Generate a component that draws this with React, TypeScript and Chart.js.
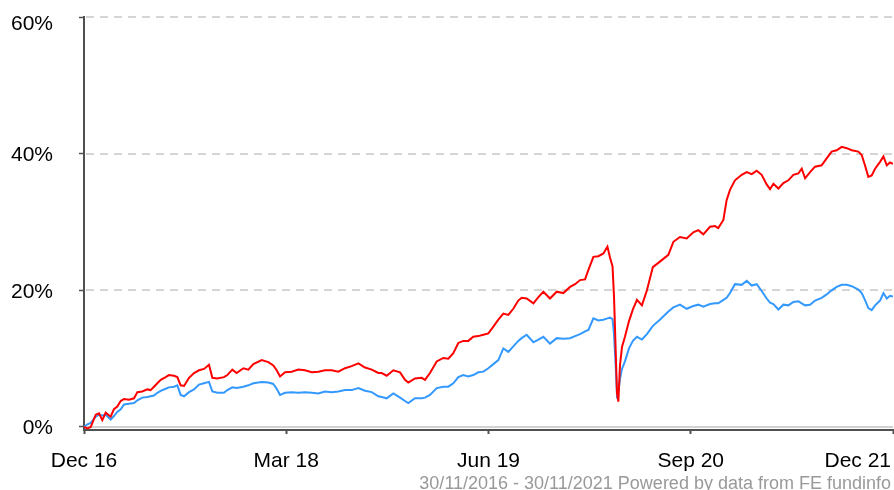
import { useEffect, useRef } from 'react';
import { Chart, registerables } from 'chart.js';

Chart.register(...registerables);

// months since 30/11/2016
const MONTHS = [
  0.0, 0.25, 0.5, 0.87, 1.11, 1.36, 1.61, 1.98, 2.22, 2.47, 2.72, 2.97, 3.34, 3.71, 3.96, 4.32, 4.7, 4.94,
  5.19, 5.44, 5.69, 6.06, 6.3, 6.68, 6.92, 7.17, 7.42, 7.79, 8.16, 8.53, 8.9, 9.27, 9.52, 9.89, 10.38, 10.63,
  11.0, 11.32, 11.82, 12.19, 12.56, 13.18, 13.67, 14.04, 14.29, 14.54, 14.91, 15.4, 15.9, 16.39, 16.89, 17.38,
  17.87, 18.37, 18.86, 19.36, 19.85, 20.35, 20.84, 21.34, 21.83, 22.08, 22.45, 22.94, 23.44, 23.81, 24.05,
  24.55, 25.05, 25.29, 25.66, 26.16, 26.65, 27.02, 27.39, 27.76, 28.13, 28.5, 28.87, 29.24, 29.62, 29.99,
  30.36, 30.73, 31.1, 31.47, 31.84, 32.21, 32.46, 32.83, 33.33, 33.7, 34.07, 34.56, 35.06, 35.55, 36.05,
  36.42, 36.79, 37.16, 37.41, 37.78, 38.15, 38.52, 38.82, 39.01, 39.2, 39.31, 39.42, 39.53, 39.63, 39.75,
  39.9, 40.12, 40.42, 40.71, 41.01, 41.38, 41.75, 42.19, 42.71, 43.34, 43.71, 44.2, 44.7, 45.19, 45.56,
  45.93, 46.43, 46.8, 47.04, 47.42, 47.66, 47.91, 48.28, 48.78, 49.15, 49.52, 49.89, 50.26, 50.63, 50.88,
  51.13, 51.5, 51.87, 52.24, 52.61, 52.98, 53.23, 53.48, 53.85, 54.22, 54.71, 55.08, 55.45, 55.82, 56.2,
  56.57, 56.94, 57.43, 57.68, 57.92, 58.17, 58.42, 58.67, 59.04, 59.29, 59.54, 59.78, 60.0,
];

const RED_SERIES = [
  0.0, -0.2, 0.0, 1.8, 2.0, 1.0, 2.1, 1.5, 2.6, 3.0, 3.8, 4.1, 4.0, 4.2, 5.1, 5.2, 5.5, 5.4,
  5.9, 6.4, 6.9, 7.3, 7.6, 7.5, 7.3, 6.1, 6.0, 7.2, 7.9, 8.3, 8.5, 9.1, 7.2, 7.1, 7.3, 7.6,
  8.4, 7.9, 8.6, 8.4, 9.2, 9.8, 9.5, 9.0, 8.3, 7.4, 8.0, 8.1, 8.4, 8.3, 8.0, 8.1,
  8.3, 8.3, 8.1, 8.6, 8.9, 9.3, 8.7, 8.4, 7.9, 7.9, 7.5, 8.3, 8.0, 6.9, 6.5,
  7.1, 7.2, 6.9, 7.9, 9.6, 10.1, 10.0, 10.8, 12.3, 12.6, 12.6, 13.2, 13.3, 13.5, 13.7,
  14.7, 15.7, 16.6, 16.4, 17.3, 18.5, 18.9, 18.8, 18.1, 19.0, 19.8, 18.8, 19.8, 19.6, 20.5,
  20.9, 21.5, 21.6, 23.0, 24.9, 25.0, 25.4, 26.4, 24.8, 23.5, 19.0, 12.0, 5.0, 3.7, 9.0,
  11.7, 13.2, 15.5, 17.2, 18.6, 17.8, 20.0, 23.4, 24.2, 25.2, 27.1, 27.8, 27.6, 28.5, 28.8,
  28.2, 29.3, 29.4, 29.1, 30.3, 33.2, 34.7, 36.1, 36.9, 37.3, 37.0, 37.5, 36.9, 35.5, 34.8,
  35.6, 34.9, 35.7, 36.1, 36.9, 37.1, 37.8, 36.4, 37.3, 38.1, 38.3, 39.3, 40.3, 40.5, 41.0,
  40.8, 40.5, 40.3, 39.8, 38.3, 36.6, 36.8, 37.8, 38.8, 39.6, 38.3, 38.7, 38.5,
];

const BLUE_SERIES = [
  0.0, 0.4, 0.6, 1.5, 1.8, 1.7, 1.8, 1.1, 1.6, 2.2, 2.6, 3.3, 3.4, 3.5, 3.9, 4.3, 4.4, 4.5,
  4.6, 5.0, 5.3, 5.6, 5.8, 5.9, 6.1, 4.7, 4.5, 5.1, 5.5, 6.2, 6.4, 6.6, 5.2, 5.0, 5.0, 5.4,
  5.8, 5.7, 5.9, 6.1, 6.4, 6.6, 6.5, 6.3, 5.6, 4.7, 5.0, 5.1, 5.0, 5.1, 5.0, 4.9,
  5.2, 5.1, 5.2, 5.4, 5.4, 5.7, 5.3, 5.1, 4.5, 4.4, 4.2, 4.9, 4.3, 3.8, 3.5,
  4.2, 4.2, 4.3, 4.7, 5.7, 5.9, 5.9, 6.4, 7.3, 7.6, 7.4, 7.6, 8.0, 8.1, 8.6,
  9.2, 9.8, 11.5, 11.0, 11.8, 12.6, 13.0, 13.5, 12.4, 12.8, 13.2, 12.2, 13.0, 12.9, 13.0,
  13.3, 13.6, 14.0, 14.2, 15.9, 15.6, 15.7, 15.9, 16.0, 15.8, 13.5, 9.5, 4.6, 5.0, 7.0,
  8.5, 9.6, 11.5, 12.6, 13.2, 12.8, 13.6, 14.8, 15.7, 16.9, 17.5, 17.9, 17.3, 17.7, 17.9,
  17.6, 18.0, 18.1, 18.1, 18.6, 18.9, 19.6, 20.9, 20.8, 21.4, 20.7, 20.9, 19.9, 18.8, 18.2,
  18.0, 17.2, 17.9, 17.8, 18.3, 18.4, 18.1, 17.8, 17.9, 18.5, 18.9, 19.4, 20.0, 20.5, 20.8,
  20.8, 20.6, 20.1, 19.6, 18.6, 17.4, 17.1, 17.8, 18.5, 19.6, 18.8, 19.2, 19.1,
];

const X_TICKS = [0, 15, 30, 45, 60];
const X_TICK_LABELS = ['Dec 16', 'Mar 18', 'Jun 19', 'Sep 20', 'Dec 21'];
const Y_TICKS = [0, 20, 40, 60];
const FOOTER = '30/11/2016 - 30/11/2021 Powered by data from FE fundinfo';

const FONT = '"Liberation Sans", Arial, sans-serif';
const AXIS_COLOR = '#505050';

const overlay = {
  id: 'overlay',
  beforeDatasetsDraw(chart: any) {
    const { ctx, chartArea: a, scales } = chart;
    const y = scales.y;
    ctx.save();
    Y_TICKS.forEach((v) => {
      const py = Math.round(y.getPixelForValue(v));
      ctx.beginPath();
      if (v === 0) {
        ctx.setLineDash([]);
        ctx.lineWidth = 2;
        ctx.strokeStyle = '#d2d2d2';
      } else {
        ctx.setLineDash([8, 6]);
        ctx.lineWidth = 1.5;
        ctx.strokeStyle = '#c8c8c8';
      }
      ctx.moveTo(a.left + 2, py);
      ctx.lineTo(a.right, py);
      ctx.stroke();
    });
    ctx.restore();
  },
  afterDraw(chart: any) {
    const { ctx, scales, width } = chart;
    const x = scales.x;
    const y = scales.y;
    ctx.save();
    ctx.font = `21px ${FONT}`;
    ctx.fillStyle = '#000';
    ctx.textBaseline = 'alphabetic';
    ctx.textAlign = 'right';
    Y_TICKS.forEach((v) => {
      const py = y.getPixelForValue(v);
      ctx.fillText(`${v}%`, 53, Math.max(py + 7.5, 29.5));
    });
    ctx.textAlign = 'left';
    X_TICKS.forEach((v, i) => {
      const label = X_TICK_LABELS[i];
      const w = ctx.measureText(label).width;
      let cx = x.getPixelForValue(v);
      if (cx + w / 2 > width - 3) cx = width - 3 - w / 2;
      ctx.fillText(label, cx - w / 2, 467);
    });
    ctx.font = `18px ${FONT}`;
    ctx.fillStyle = '#999999';
    ctx.textAlign = 'right';
    ctx.fillText(FOOTER, width - 3, 488.5);
    ctx.restore();
  },
};

export default function App() {
  const ref = useRef<HTMLCanvasElement | null>(null);

  useEffect(() => {
    document.body.style.margin = '0';
    const canvas = ref.current;
    if (!canvas) return;
    const red = RED_SERIES.map((v, i) => ({ x: MONTHS[i], y: v }));
    const blue = BLUE_SERIES.map((v, i) => ({ x: MONTHS[i], y: v }));
    const chart = new Chart(canvas, {
      type: 'line',
      data: {
        datasets: [
          {
            label: 'Fund',
            data: red,
            borderColor: '#ff0000',
            borderWidth: 2,
            pointRadius: 0,
            tension: 0,
            fill: false,
          },
          {
            label: 'Sector',
            data: blue,
            borderColor: '#3399ff',
            borderWidth: 2,
            pointRadius: 0,
            tension: 0,
            fill: false,
          },
        ],
      },
      options: {
        responsive: false,
        animation: false,
        events: [],
        layout: { padding: { top: 17, right: 1, left: 0, bottom: 0 } },
        plugins: {
          legend: { display: false },
          tooltip: { enabled: false },
          title: { display: false },
        },
        scales: {
          x: {
            type: 'linear',
            min: 0,
            max: 60,
            afterBuildTicks: (s: any) => {
              s.ticks = X_TICKS.map((v) => ({ value: v }));
            },
            afterFit: (s: any) => {
              s.height = 60;
            },
            ticks: { display: false },
            grid: {
              display: true,
              drawOnChartArea: false,
              drawTicks: true,
              tickLength: 4,
              tickWidth: 2,
              tickColor: AXIS_COLOR,
            },
            border: { display: true, color: AXIS_COLOR, width: 2 },
          },
          y: {
            type: 'linear',
            min: -0.44,
            max: 60,
            afterBuildTicks: (s: any) => {
              s.ticks = Y_TICKS.map((v) => ({ value: v }));
            },
            afterFit: (s: any) => {
              s.width = 84;
            },
            ticks: { display: false },
            grid: {
              display: true,
              drawOnChartArea: false,
              drawTicks: true,
              tickLength: 5,
              tickWidth: 1.5,
              tickColor: AXIS_COLOR,
            },
            border: { display: true, color: AXIS_COLOR, width: 2 },
          },
        },
      },
      plugins: [overlay],
    });
    return () => chart.destroy();
  }, []);

  return (
    <div style={{ position: 'absolute', left: 0, top: 0, width: 894, height: 490, background: '#fff' }}>
      <canvas ref={ref} width={894} height={490} style={{ display: 'block' }} />
    </div>
  );
}
